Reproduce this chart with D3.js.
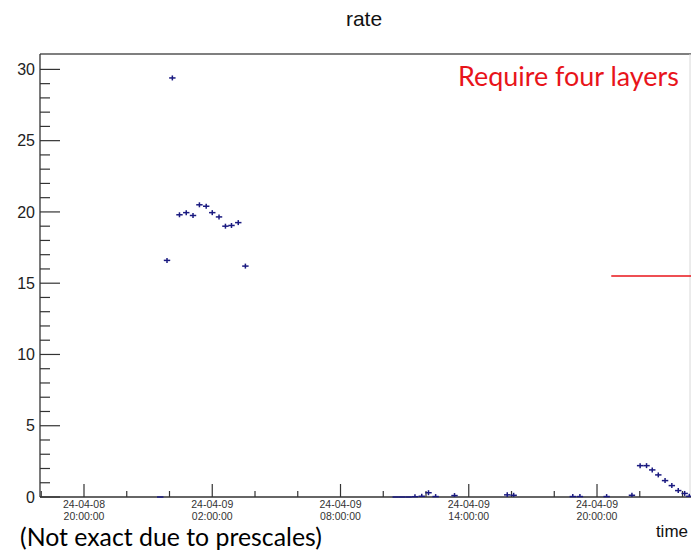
<!DOCTYPE html>
<html>
<head>
<meta charset="utf-8">
<script src="https://cdn.jsdelivr.net/npm/d3@7"></script>
<style>
  body { margin: 0; background: #fff; }
  svg { display: block; }
</style>
</head>
<body>
<svg id="chart" width="691" height="558"></svg>
<script>
// Trigger rate per time bin (bin centres, UTC) and the measured rates.
const binTimes = [
  "2024-04-08 23:34", "2024-04-08 23:53",
  "2024-04-09 00:08", "2024-04-09 00:28", "2024-04-09 00:47", "2024-04-09 01:06",
  "2024-04-09 01:24", "2024-04-09 01:43", "2024-04-09 02:00", "2024-04-09 02:19",
  "2024-04-09 02:37", "2024-04-09 02:54", "2024-04-09 03:13", "2024-04-09 03:33",
  "2024-04-09 10:35", "2024-04-09 10:53", "2024-04-09 11:11", "2024-04-09 11:29",
  "2024-04-09 11:48", "2024-04-09 12:07", "2024-04-09 12:27", "2024-04-09 13:20",
  "2024-04-09 15:48", "2024-04-09 16:06", "2024-04-09 18:52", "2024-04-09 19:12",
  "2024-04-09 20:27", "2024-04-09 21:38", "2024-04-09 22:01", "2024-04-09 22:19",
  "2024-04-09 22:35", "2024-04-09 22:52", "2024-04-09 23:11", "2024-04-09 23:30",
  "2024-04-09 23:48", "2024-04-10 00:06", "2024-04-10 00:19"
];
const rateValues = [
  0, 16.6,
  29.4, 19.8, 19.95, 19.75,
  20.5, 20.4, 19.95, 19.65,
  19.0, 19.05, 19.25, 16.2,
  0, 0, 0, 0.02,
  0.05, 0.3, 0.03, 0.1,
  0.15, 0.12, 0.03, 0.03,
  0.03, 0.12, 2.2, 2.2,
  1.9, 1.55, 1.15, 0.8,
  0.45, 0.25, 0.05
];
const binMinutes = 18;

// Axis ranges and ticks
const timeDomain = ["2024-04-08 17:56:30", "2024-04-10 00:21:00"];
const yMax = 31.08;
const yMajorTicks = [0, 5, 10, 15, 20, 25, 30];

// Four-layer requirement level
const thresholdValue = 15.5;
const thresholdFrom = "2024-04-09 20:40";

const titleText = "rate";
const xTitleText = "time";
const noteText = "Require four layers";
const footText = "(Not exact due to prescales)";

const parseTime = s => d3.utcParse(s.length > 16 ? "%Y-%m-%d %H:%M:%S" : "%Y-%m-%d %H:%M")(s);

const W = 691, H = 558;
const plotLeft = 40, plotRight = 690, plotTop = 54, plotBottom = 497;

const svg = d3.select("#chart");

const x = d3.scaleUtc().domain(timeDomain.map(parseTime)).range([plotLeft, plotRight]);
const y = d3.scaleLinear().domain([0, yMax]).range([plotBottom, plotTop]);

const axisColor = "#333";
const markColor = "#1a1a80";

// Frame: top edge, faint right edge
svg.append("line")
  .attr("x1", plotLeft).attr("x2", W).attr("y1", plotTop).attr("y2", plotTop)
  .attr("stroke", "#555").attr("stroke-width", 1.3);
svg.append("line")
  .attr("x1", plotRight).attr("x2", plotRight).attr("y1", plotTop).attr("y2", plotBottom)
  .attr("stroke", "#d8d8d8").attr("stroke-width", 1);

// Y axis: major ticks every 5, minor every 1, drawn inward
const yAxisG = svg.append("g");
yAxisG.append("line").attr("x1", plotLeft).attr("x2", plotLeft).attr("y1", plotTop).attr("y2", plotBottom)
  .attr("stroke", axisColor).attr("stroke-width", 1.3);
d3.range(0, 31).forEach(v => {
  const major = v % 5 === 0;
  yAxisG.append("line")
    .attr("x1", plotLeft).attr("x2", plotLeft + (major ? 20 : 10))
    .attr("y1", y(v)).attr("y2", y(v))
    .attr("stroke", axisColor).attr("stroke-width", 1.2);
});
yAxisG.selectAll("text.ylab").data(yMajorTicks).join("text")
  .attr("class", "ylab")
  .attr("x", 35).attr("y", d => y(d))
  .attr("dy", "0.36em")
  .attr("text-anchor", "end")
  .attr("font-family", "Liberation Sans, Arial, sans-serif")
  .attr("font-size", 16)
  .attr("fill", "#222")
  .text(d => d);

// X axis: ticks every 2 hours, labelled every 6 hours (02, 08, 14, 20)
const xAxisG = svg.append("g");
xAxisG.append("line").attr("x1", plotLeft).attr("x2", W).attr("y1", plotBottom).attr("y2", plotBottom)
  .attr("stroke", axisColor).attr("stroke-width", 1.3);
const hourTicks = d3.utcHour.every(2).range(x.domain()[0], x.domain()[1]);
const isMajor = d => d.getUTCHours() % 6 === 2;
xAxisG.selectAll("line.xt").data(hourTicks).join("line")
  .attr("class", "xt")
  .attr("x1", d => x(d)).attr("x2", d => x(d))
  .attr("y1", plotBottom).attr("y2", d => plotBottom - (isMajor(d) ? 13 : 6))
  .attr("stroke", axisColor).attr("stroke-width", 1.2);
const fmtDate = d3.utcFormat("%y-%m-%d"), fmtClock = d3.utcFormat("%H:%M:%S");
const xl = xAxisG.selectAll("text.xlab").data(hourTicks.filter(isMajor)).join("text")
  .attr("class", "xlab")
  .attr("text-anchor", "middle")
  .attr("font-family", "Liberation Sans, Arial, sans-serif")
  .attr("font-size", 10.5)
  .attr("fill", "#333");
xl.append("tspan").attr("x", d => x(d)).attr("y", 508).text(fmtDate);
xl.append("tspan").attr("x", d => x(d)).attr("y", 519.5).text(fmtClock);

// Data points: bin width as horizontal bar, small vertical stroke as the "+" marker
const points = binTimes.map((t, i) => ({ t: parseTime(t), v: rateValues[i] }));
const half = binMinutes / 2 * 60000;
const pg = svg.append("g").attr("stroke", markColor).attr("stroke-width", 1.5);
pg.selectAll("line.h").data(points).join("line")
  .attr("class", "h")
  .attr("x1", d => x(new Date(+d.t - half))).attr("x2", d => x(new Date(+d.t + half)))
  .attr("y1", d => y(d.v)).attr("y2", d => y(d.v));
pg.selectAll("line.v").data(points.filter(d => d.v > 0)).join("line")
  .attr("class", "v")
  .attr("x1", d => x(d.t)).attr("x2", d => x(d.t))
  .attr("y1", d => Math.min(plotBottom, y(d.v) + 2.5)).attr("y2", d => y(d.v) - 2.5);

// Threshold line
svg.append("line")
  .attr("x1", x(parseTime(thresholdFrom))).attr("x2", W)
  .attr("y1", y(thresholdValue)).attr("y2", y(thresholdValue))
  .attr("stroke", "#e8141a").attr("stroke-width", 1.5);

// Titles
svg.append("text")
  .attr("x", 364).attr("y", 26)
  .attr("text-anchor", "middle")
  .attr("font-family", "Liberation Sans, Arial, sans-serif")
  .attr("font-size", 21)
  .attr("fill", "#111")
  .text(titleText);

svg.append("text")
  .attr("x", 688).attr("y", 537)
  .attr("text-anchor", "end")
  .attr("font-family", "Liberation Sans, Arial, sans-serif")
  .attr("font-size", 17)
  .attr("fill", "#111")
  .text(xTitleText);

// Fit a text line to a given width by scaling its font size
function fitText(sel, width) {
  sel.attr("font-size", 100);
  const len = sel.node().getComputedTextLength();
  sel.attr("font-size", 100 * width / len);
}

const note = svg.append("text")
  .attr("x", 458).attr("y", 86)
  .attr("font-family", "Lato, Carlito, sans-serif")
  .attr("fill", "#e8141a")
  .text(noteText);
fitText(note, 221);

const foot = svg.append("text")
  .attr("x", 20).attr("y", 546)
  .attr("font-family", "Lato, Carlito, sans-serif")
  .attr("fill", "#000")
  .text(footText);
fitText(foot, 302);
</script>
</body>
</html>
